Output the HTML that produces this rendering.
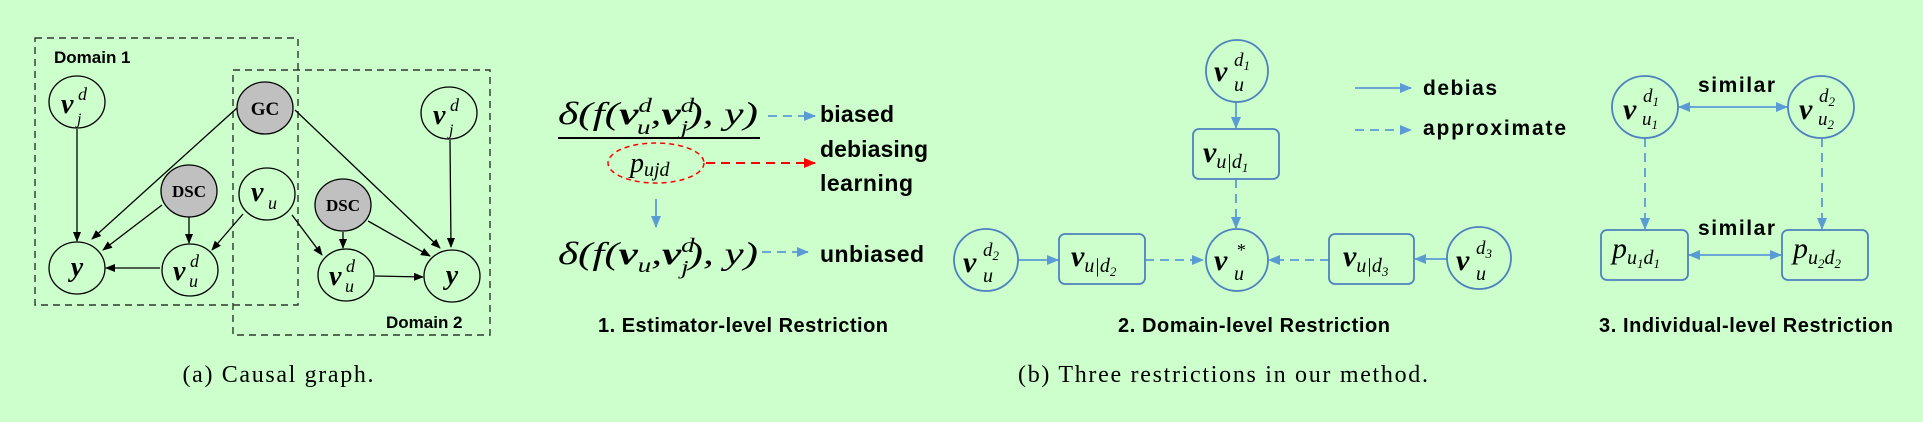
<!DOCTYPE html>
<html><head><meta charset="utf-8"><style>
html,body{margin:0;padding:0;background:#ccffcc;}
svg{display:block;}
.sans{font-family:"Liberation Sans",sans-serif;font-weight:bold;fill:#000;}
.m{font-family:"Liberation Serif",serif;font-style:italic;fill:#000;}
.mb{font-family:"Liberation Serif",serif;font-style:italic;font-weight:bold;fill:#000;}
.cap{font-family:"Liberation Serif",serif;fill:#000;font-size:24px;}
.k{stroke:#000;stroke-width:1.3;fill:none;}
.bl{stroke:#5b9bd5;stroke-width:1.8;fill:none;}
.bd{stroke:#5b9bd5;stroke-width:1.8;fill:none;stroke-dasharray:9 6;}
.node{fill:#ccffcc;stroke:#000;stroke-width:1.3;}
.gray{fill:#c0c0c0;stroke:#000;stroke-width:1.3;}
.bnode{fill:#ccffcc;stroke:#4f81bd;stroke-width:1.8;}
</style></head><body>
<svg width="1923" height="422" viewBox="0 0 1923 422">
<defs>
<marker id="ak" markerWidth="10" markerHeight="8" refX="9" refY="4" orient="auto" markerUnits="userSpaceOnUse"><path d="M0,0 L10,4 L0,8 z" fill="#000"/></marker>
<marker id="ab" markerWidth="12" markerHeight="10" refX="11" refY="5" orient="auto" markerUnits="userSpaceOnUse"><path d="M0,0 L12,5 L0,10 z" fill="#5b9bd5"/></marker>
<marker id="abs" markerWidth="12" markerHeight="10" refX="1" refY="5" orient="auto" markerUnits="userSpaceOnUse"><path d="M12,0 L0,5 L12,10 z" fill="#5b9bd5"/></marker>
<marker id="ar" markerWidth="12" markerHeight="10" refX="11" refY="5" orient="auto" markerUnits="userSpaceOnUse"><path d="M0,0 L12,5 L0,10 z" fill="#ff0000"/></marker>
</defs>

<g>
<rect x="35" y="38" width="263" height="267" fill="none" stroke="#333" stroke-width="1.4" stroke-dasharray="7 5"/>
<rect x="233" y="70" width="257" height="265" fill="none" stroke="#333" stroke-width="1.4" stroke-dasharray="7 5"/>
<text x="54" y="63" class="sans" font-size="17">Domain 1</text>
<text x="386" y="328" class="sans" font-size="17">Domain 2</text>

<line x1="77" y1="129" x2="77" y2="241" class="k" marker-end="url(#ak)"/>
<line x1="237" y1="108" x2="92" y2="239" class="k" marker-end="url(#ak)"/>
<line x1="162" y1="205" x2="103" y2="250" class="k" marker-end="url(#ak)"/>
<line x1="189" y1="217" x2="189" y2="243" class="k" marker-end="url(#ak)"/>
<line x1="160" y1="268" x2="106" y2="268" class="k" marker-end="url(#ak)"/>
<line x1="243" y1="214" x2="212" y2="250" class="k" marker-end="url(#ak)"/>
<line x1="292" y1="215" x2="322" y2="255" class="k" marker-end="url(#ak)"/>
<line x1="343" y1="232" x2="343" y2="248" class="k" marker-end="url(#ak)"/>
<line x1="368" y1="221" x2="430" y2="256" class="k" marker-end="url(#ak)"/>
<line x1="295" y1="110" x2="440" y2="248" class="k" marker-end="url(#ak)"/>
<line x1="450" y1="140" x2="451" y2="247" class="k" marker-end="url(#ak)"/>
<line x1="375" y1="276" x2="423" y2="277" class="k" marker-end="url(#ak)"/>

<g><ellipse cx="77" cy="102" rx="28" ry="26" class="node"/><text x="61" y="113" class="mb" font-size="28">v</text><text x="78" y="100" class="m" font-size="18">d</text><text x="77" y="124" class="m" font-size="16">j</text></g>
<g><ellipse cx="265" cy="108" rx="28" ry="26" class="gray"/><text x="265" y="115" class="mb" style="font-style:normal" font-size="19" text-anchor="middle">GC</text></g>
<g><ellipse cx="449" cy="113" rx="28" ry="26" class="node"/><text x="433" y="124" class="mb" font-size="28">v</text><text x="450" y="111" class="m" font-size="18">d</text><text x="449" y="135" class="m" font-size="16">j</text></g>
<g><ellipse cx="189" cy="191" rx="28" ry="26" class="gray"/><text x="189" y="197" class="mb" style="font-style:normal" font-size="17" text-anchor="middle">DSC</text></g>
<g><ellipse cx="267" cy="194" rx="28" ry="26" class="node"/><text x="251" y="201" class="mb" font-size="28">v</text><text x="268" y="209" class="m" font-size="18">u</text></g>
<g><ellipse cx="343" cy="205" rx="28" ry="26" class="gray"/><text x="343" y="211" class="mb" style="font-style:normal" font-size="17" text-anchor="middle">DSC</text></g>
<g><ellipse cx="77" cy="268" rx="28" ry="26" class="node"/><text x="77" y="276" class="mb" font-size="28" text-anchor="middle">y</text></g>
<g><ellipse cx="190" cy="270" rx="28" ry="26" class="node"/><text x="173" y="280" class="mb" font-size="28">v</text><text x="190" y="267" class="m" font-size="18">d</text><text x="189" y="287" class="m" font-size="18">u</text></g>
<g><ellipse cx="346" cy="275" rx="28" ry="26" class="node"/><text x="329" y="285" class="mb" font-size="28">v</text><text x="346" y="272" class="m" font-size="18">d</text><text x="345" y="292" class="m" font-size="18">u</text></g>
<g><ellipse cx="452" cy="276" rx="28" ry="26" class="node"/><text x="452" y="284" class="mb" font-size="28" text-anchor="middle">y</text></g>
<text x="278" y="382" class="cap" text-anchor="middle" textLength="191">(a)  Causal graph.</text>
</g>

<g>
<text x="558" y="124" class="m" font-size="32" textLength="200" lengthAdjust="spacingAndGlyphs">δ(f(<tspan class="mb">v</tspan><tspan font-size="20" dy="-12">d</tspan><tspan font-size="20" dx="-11" dy="22">u</tspan><tspan dy="-10">,</tspan><tspan class="mb">v</tspan><tspan font-size="20" dy="-12">d</tspan><tspan font-size="20" dx="-10" dy="22">j</tspan><tspan dy="-10">), y)</tspan></text>
<line x1="558" y1="138" x2="760" y2="138" stroke="#000" stroke-width="2"/>
<ellipse cx="656" cy="163" rx="48" ry="20" fill="none" stroke="#ff0000" stroke-width="1.5" stroke-dasharray="5 4"/>
<text x="630" y="172" class="m" font-size="28">p<tspan font-size="20" dy="4">ujd</tspan></text>
<line x1="706" y1="163" x2="815" y2="163" stroke="#ff0000" stroke-width="2" stroke-dasharray="9 6" marker-end="url(#ar)"/>
<line x1="768" y1="116" x2="815" y2="116" class="bd" marker-end="url(#ab)"/>
<text x="820" y="122" class="sans" font-size="23" textLength="74">biased</text>
<text x="820" y="157" class="sans" font-size="23" textLength="108">debiasing</text>
<text x="820" y="191" class="sans" font-size="23" textLength="93">learning</text>
<line x1="656" y1="199" x2="656" y2="227" class="bl" marker-end="url(#ab)"/>
<text x="558" y="264" class="m" font-size="32" textLength="200" lengthAdjust="spacingAndGlyphs">δ(f(<tspan class="mb">v</tspan><tspan font-size="20" dy="8">u</tspan><tspan dy="-8">,</tspan><tspan class="mb">v</tspan><tspan font-size="20" dy="-12">d</tspan><tspan font-size="20" dx="-10" dy="22">j</tspan><tspan dy="-10">), y)</tspan></text>
<line x1="762" y1="252" x2="808" y2="252" class="bd" marker-end="url(#ab)"/>
<text x="820" y="262" class="sans" font-size="23" textLength="104">unbiased</text>
<text x="598" y="332" class="sans" font-size="20" textLength="290">1. Estimator-level Restriction</text>
</g>

<g>
<line x1="1236" y1="102" x2="1236" y2="128" class="bl" marker-end="url(#ab)"/>
<line x1="1236" y1="179" x2="1236" y2="228" class="bd" marker-end="url(#ab)"/>
<line x1="1018" y1="260" x2="1058" y2="260" class="bl" marker-end="url(#ab)"/>
<line x1="1145" y1="260" x2="1203" y2="260" class="bd" marker-end="url(#ab)"/>
<line x1="1447" y1="259" x2="1415" y2="259" class="bl" marker-end="url(#ab)"/>
<line x1="1329" y1="260" x2="1269" y2="260" class="bd" marker-end="url(#ab)"/>

<g><ellipse cx="1237" cy="71" rx="31" ry="31" class="bnode"/><text x="1214" y="81" class="mb" font-size="30">v</text><text x="1234" y="66" class="m" font-size="19">d<tspan font-size="13" dy="4">1</tspan></text><text x="1234" y="91" class="m" font-size="20">u</text></g>
<g><rect x="1193" y="129" width="86" height="50" rx="6" class="bnode"/><text x="1203" y="162" class="mb" font-size="30">v<tspan class="m" style="font-weight:normal" font-size="20" dy="6">u|d</tspan><tspan class="m" style="font-weight:normal" font-size="13" dy="4">1</tspan></text></g>
<g><ellipse cx="1237" cy="260" rx="31" ry="31" class="bnode"/><text x="1214" y="270" class="mb" font-size="30">v</text><text x="1236" y="256" class="m" font-size="18">*</text><text x="1234" y="280" class="m" font-size="20">u</text></g>
<g><ellipse cx="986" cy="260" rx="32" ry="31" class="bnode"/><text x="963" y="272" class="mb" font-size="30">v</text><text x="983" y="256" class="m" font-size="19">d<tspan font-size="13" dy="4">2</tspan></text><text x="983" y="282" class="m" font-size="20">u</text></g>
<g><rect x="1059" y="234" width="86" height="50" rx="6" class="bnode"/><text x="1071" y="266" class="mb" font-size="30">v<tspan class="m" style="font-weight:normal" font-size="20" dy="6">u|d</tspan><tspan class="m" style="font-weight:normal" font-size="13" dy="4">2</tspan></text></g>
<g><rect x="1329" y="234" width="85" height="50" rx="6" class="bnode"/><text x="1343" y="266" class="mb" font-size="30">v<tspan class="m" style="font-weight:normal" font-size="20" dy="6">u|d</tspan><tspan class="m" style="font-weight:normal" font-size="13" dy="4">3</tspan></text></g>
<g><ellipse cx="1479" cy="258" rx="32" ry="31" class="bnode"/><text x="1456" y="270" class="mb" font-size="30">v</text><text x="1476" y="254" class="m" font-size="19">d<tspan font-size="13" dy="4">3</tspan></text><text x="1476" y="280" class="m" font-size="20">u</text></g>

<line x1="1355" y1="88" x2="1411" y2="88" class="bl" marker-end="url(#ab)"/>
<text x="1423" y="95" class="sans" font-size="21" textLength="74">debias</text>
<line x1="1355" y1="130" x2="1411" y2="130" class="bd" marker-end="url(#ab)"/>
<text x="1423" y="135" class="sans" font-size="21" textLength="143">approximate</text>
<text x="1118" y="332" class="sans" font-size="20" textLength="272">2. Domain-level Restriction</text>
</g>

<g>
<line x1="1679" y1="107" x2="1787" y2="107" class="bl" marker-start="url(#abs)" marker-end="url(#ab)"/>
<text x="1698" y="92" class="sans" font-size="21" textLength="77">similar</text>
<line x1="1645" y1="138" x2="1645" y2="229" class="bd" marker-end="url(#ab)"/>
<line x1="1822" y1="138" x2="1822" y2="229" class="bd" marker-end="url(#ab)"/>
<line x1="1689" y1="255" x2="1781" y2="255" class="bl" marker-start="url(#abs)" marker-end="url(#ab)"/>
<text x="1698" y="235" class="sans" font-size="21" textLength="77">similar</text>
<g><ellipse cx="1645" cy="107" rx="33" ry="31" class="bnode"/><text x="1623" y="119" class="mb" font-size="30">v</text><text x="1643" y="102" class="m" font-size="19">d<tspan font-size="13" dy="4">1</tspan></text><text x="1642" y="125" class="m" font-size="19">u<tspan font-size="13" dy="4">1</tspan></text></g>
<g><ellipse cx="1821" cy="107" rx="33" ry="31" class="bnode"/><text x="1799" y="119" class="mb" font-size="30">v</text><text x="1819" y="102" class="m" font-size="19">d<tspan font-size="13" dy="4">2</tspan></text><text x="1818" y="125" class="m" font-size="19">u<tspan font-size="13" dy="4">2</tspan></text></g>
<g><rect x="1601" y="230" width="87" height="50" rx="6" class="bnode"/><text x="1612" y="258" class="m" font-size="30">p<tspan font-size="20" dy="6">u</tspan><tspan font-size="13" dy="4">1</tspan><tspan font-size="20" dy="-4">d</tspan><tspan font-size="13" dy="4">1</tspan></text></g>
<g><rect x="1782" y="230" width="86" height="50" rx="6" class="bnode"/><text x="1793" y="258" class="m" font-size="30">p<tspan font-size="20" dy="6">u</tspan><tspan font-size="13" dy="4">2</tspan><tspan font-size="20" dy="-4">d</tspan><tspan font-size="13" dy="4">2</tspan></text></g>
<text x="1599" y="332" class="sans" font-size="20" textLength="294">3. Individual-level Restriction</text>
</g>

<text x="1018" y="382" class="cap" textLength="410">(b)  Three restrictions in our method.</text>
</svg>
</body></html>
